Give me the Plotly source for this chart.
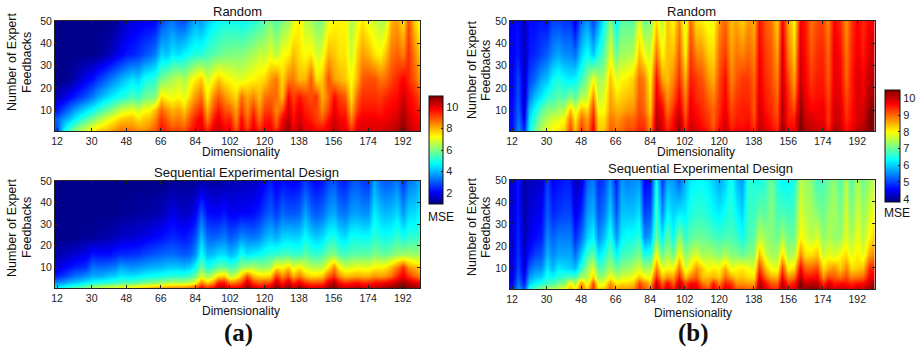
import plotly.graph_objects as go

dims = list(range(12, 202, 3))
feedbacks = [1, 3, 6, 10, 16, 24, 35, 50]
x_ticks = [12, 30, 48, 66, 84, 102, 120, 138, 156, 174, 192]
y_ticks = [10, 20, 30, 40, 50]

a_rand_50 = [1.1,1.1,1.1,1.1,1.1,1.1,1.1,1.1, 1.1,1.1,1.2,1.4,1.7,1.8,1.9,2.0, 2.0,2.1,2.8,3.2,3.3,3.0,2.9,3.5, 3.9,3.7,4.2,4.6,4.8,4.9,4.9,4.9, 4.8,4.9,5.1,5.3,5.6,6.0,5.5,6.0, 6.3,7.0,7.4,6.6,6.4,6.0,6.1,7.0, 7.3,7.3,7.3,6.4,7.0,7.5,7.0,6.8, 6.5,6.6,8.0,8.2,7.5,9.0,7.8,7.0]
a_rand_35 = [1.1,1.1,1.1,1.1,1.1,1.1,1.1,1.2, 1.3,1.5,1.8,2.0,2.3,2.4,2.6,2.9, 3.1,3.4,4.3,4.1,4.6,4.4,4.7,4.9, 5.1,5.1,5.4,5.6,5.7,5.9,6.0,6.0, 6.0,6.2,6.4,6.7,6.6,7.0,6.6,7.2, 7.3,7.9,7.5,7.2,7.4,6.8,7.0,8.0, 7.8,7.5,7.5,6.7,7.7,8.2,8.0,7.5, 7.3,7.8,8.6,8.8,8.5,9.3,8.5,7.7]
a_rand_24 = [1.1,1.1,1.2,1.4,1.7,2.0,2.2,2.6, 2.9,3.3,3.6,3.9,4.2,4.5,4.3,4.9, 5.0,5.2,5.9,6.2,6.4,6.7,6.4,7.0, 7.4,7.8,6.8,7.3,7.8,7.4,7.2,7.0, 6.9,7.2,7.3,7.5,7.6,8.2,8.6,7.6, 8.5,8.6,7.9,8.0,8.9,7.5,7.8,9.0, 8.2,8.0,7.8,7.2,8.0,8.9,9.0,9.0, 8.6,8.7,9.1,9.4,9.8,9.4,8.9,8.2]
a_rand_16 = [1.5,1.8,2.1,2.4,2.7,3.0,3.4,3.8, 4.2,4.5,4.8,5.0,5.2,5.5,5.3,5.8, 5.9,6.0,7.6,7.2,7.1,7.3,7.0,7.7, 8.3,8.7,7.3,8.4,8.9,8.4,8.0,7.6, 8.7,8.1,8.5,7.9,8.6,8.8,8.7,7.9, 9.8,9.1,9.6,9.2,9.0,9.3,8.0,8.7, 9.7,9.2,8.9,7.5,8.8,9.3,9.3,9.3, 9.2,9.4,9.6,9.7,10.2,9.8,9.5,9.0]
a_rand_10 = [2.3,2.8,3.3,3.7,4.1,4.5,4.8,5.2, 5.6,5.9,6.3,6.7,6.9,7.1,6.8,7.2, 7.3,7.9,8.8,8.3,8.0,8.2,7.8,8.5, 9.0,9.4,8.0,9.0,9.6,9.0,8.8,8.2, 9.2,8.4,9.3,8.3,9.1,9.2,8.4,9.0, 10.2,9.4,10.0,9.5,9.3,9.1,8.4,9.1, 10.0,9.5,9.4,8.0,9.2,9.6,9.6,9.6, 9.5,9.7,9.8,10.0,10.5,10.0,9.7,9.4]
a_rand_6 = [3.1,3.7,4.1,4.6,5.1,5.5,5.9,6.3, 6.7,7.1,7.4,7.7,7.9,7.9,7.5,7.8, 7.9,8.4,9.3,8.8,8.4,8.6,8.3,9.0, 9.5,9.9,8.5,9.5,10.0,9.4,9.4,8.4, 9.7,8.7,9.7,8.7,9.5,9.6,8.7,9.8, 10.4,9.6,10.2,9.7,9.5,9.2,8.9,9.6, 10.2,9.8,9.7,8.5,9.7,9.9,9.9,9.9, 9.8,9.9,10.0,10.2,10.7,10.2,9.9,9.7]
a_rand_3 = [3.0,4.2,5.0,5.5,6.0,6.4,6.8,7.2, 7.4,7.7,8.0,8.3,8.3,8.3,8.0,8.1, 8.3,8.7,9.5,9.1,8.8,8.9,8.7,9.3, 9.7,10.0,9.0,9.8,10.2,9.7,9.7,8.7, 9.9,9.0,9.9,9.1,9.7,9.8,9.0,10.1, 10.6,9.8,10.4,9.9,9.8,9.5,9.4,9.9, 10.3,10.0,9.9,8.9,9.9,10.0,10.0,10.0, 10.0,10.1,10.2,10.4,10.8,10.3,10.0,9.9]
a_rand_1 = [2.8,4.5,5.4,6.0,6.4,6.8,7.2,7.6, 7.8,8.0,8.3,8.6,8.6,8.6,8.4,8.4, 8.6,8.9,9.6,9.3,9.1,9.2,9.0,9.5, 9.8,10.1,9.3,10.0,10.3,9.9,9.8,9.0, 10.0,9.3,10.1,9.4,9.8,9.9,9.3,10.3, 10.7,10.0,10.5,10.1,10.0,9.7,9.7,10.0, 10.4,10.1,10.0,9.2,10.0,10.1,10.1,10.1, 10.1,10.2,10.3,10.5,10.9,10.4,10.1,10.0]

a_seq_50 = [1.1,1.1,1.1,1.1,1.1,1.1,1.1,1.1, 1.1,1.1,1.1,1.1,1.1,1.1,1.1,1.1, 1.1,1.1,1.1,1.1,1.2,1.2,1.2,1.2, 1.2,1.4,1.3,1.3,1.3,1.4,1.4,1.5, 1.5,1.5,1.6,1.7,2.0,2.4,1.9,2.2, 2.1,2.0,2.2,2.7,2.3,2.1,2.3,2.8, 3.0,2.5,2.4,2.9,3.0,2.7,2.6,3.8, 3.2,3.0,3.1,3.4,2.6,3.3,3.5,3.9]
a_seq_35 = [1.1,1.1,1.1,1.1,1.1,1.1,1.1,1.1, 1.1,1.1,1.1,1.2,1.2,1.2,1.3,1.3, 1.3,1.4,1.5,1.7,1.9,1.7,1.6,1.7, 2.0,3.0,2.2,2.1,2.1,2.3,2.0,2.0, 2.1,2.1,2.2,2.4,2.8,3.1,2.7,3.2, 3.0,3.0,3.1,3.8,3.2,3.0,3.2,3.7, 3.9,3.4,3.3,3.7,3.8,3.6,3.6,4.6, 4.2,4.0,4.1,4.4,3.7,4.3,4.4,4.7]
a_seq_24 = [1.1,1.1,1.1,1.1,1.2,1.2,1.2,1.3, 1.4,1.4,1.5,1.6,1.7,1.7,1.8,1.9, 2.0,2.1,2.2,2.4,2.5,2.4,2.3,2.5, 2.9,4.1,3.2,3.1,3.2,3.4,3.0,3.2, 3.6,3.4,3.3,3.5,3.9,4.2,3.9,4.3, 4.4,4.3,4.3,4.8,4.4,4.2,4.4,4.9, 5.0,4.6,4.4,4.9,4.9,4.8,4.8,5.2, 5.0,4.9,5.0,5.3,4.9,5.2,5.2,5.4]
a_seq_16 = [1.4,1.5,1.6,1.7,1.8,1.9,2.3,2.2, 2.2,2.2,2.4,2.5,2.5,2.6,2.6,2.8, 2.9,3.0,3.1,3.2,3.2,3.1,3.0,3.1, 3.6,4.9,4.0,4.1,4.4,4.4,4.0,4.3, 5.0,4.5,4.7,4.8,5.0,5.2,5.2,5.4, 5.4,5.3,5.2,5.7,5.3,5.2,5.4,5.9, 6.0,5.5,5.4,5.6,5.6,5.7,5.6,6.0, 5.8,5.7,5.9,6.2,6.2,6.3,6.2,6.3]
a_seq_10 = [1.8,2.0,2.2,2.4,2.5,2.6,3.3,3.2, 3.2,3.3,3.4,3.8,3.7,3.6,3.7,3.8, 3.9,4.0,4.0,4.2,4.2,4.2,4.1,4.3, 4.8,5.9,5.0,5.3,5.7,5.7,5.4,5.6, 6.2,6.3,6.5,6.2,6.2,6.4,7.4,7.2, 7.7,6.9,7.4,6.8,6.6,6.5,6.6,7.4, 8.4,7.2,6.8,6.9,7.1,7.0,7.0,7.3, 7.3,7.4,7.9,8.5,9.3,8.3,8.0,7.7]
a_seq_6 = [2.4,2.7,3.0,3.3,3.4,3.6,3.9,3.9, 4.0,4.2,4.3,4.6,4.5,4.5,4.6,4.8, 4.8,4.9,5.0,5.1,5.2,5.2,5.2,5.4, 5.8,7.0,6.2,6.8,7.6,7.8,6.6,7.0, 7.8,9.0,7.9,7.6,7.6,7.7,9.2,8.4, 9.0,8.0,8.6,7.9,7.6,7.6,7.8,8.8, 9.3,8.4,7.9,8.0,8.1,8.0,8.0,8.3, 8.2,8.3,8.7,9.4,10.0,9.3,8.8,8.4]
a_seq_3 = [3.5,3.7,4.0,4.1,4.3,4.6,4.8,4.9, 5.0,5.1,5.2,5.4,5.5,5.5,5.6,5.8, 5.9,6.0,6.2,6.3,6.4,6.4,6.4,6.6, 7.0,8.4,7.6,8.2,9.4,9.5,8.4,8.6, 9.0,10.2,9.1,8.8,8.9,9.0,10.3,9.4, 10.2,9.3,9.9,9.2,8.9,8.9,9.0,10.0, 10.5,9.6,9.2,9.4,9.6,9.3,9.3,9.5, 9.6,9.7,10.0,10.4,10.7,10.3,10.0,9.7]
a_seq_1 = [4.6,4.8,5.2,5.4,5.6,5.9,6.3,6.4, 6.6,6.8,6.9,7.0,7.1,7.2,7.4,7.6, 7.7,7.9,8.0,8.1,8.2,8.2,8.3,8.5, 8.8,9.7,9.2,9.6,10.4,10.4,9.7,9.8, 10.0,10.8,10.1,9.9,10.0,10.1,10.8,10.4, 10.8,10.3,10.7,10.2,10.0,10.0,10.1,10.7, 10.9,10.4,10.2,10.3,10.5,10.2,10.2,10.4, 10.5,10.6,10.8,10.9,11.0,10.9,10.7,10.5]

b_rand_50 = [4.5,4.6,4.1,4.6,4.6,4.7,4.6,5.0, 5.0,4.9,4.9,4.4,5.3,5.6,5.0,5.6, 6.4,7.2,6.3,6.9,6.9,6.9,7.8,7.0, 7.2,8.2,7.5,8.4,8.0,8.8,7.6,9.0, 8.2,8.1,7.9,7.9,8.7,9.0,8.4,8.6, 8.3,8.7,8.5,9.6,9.1,8.9,8.3,9.7, 8.6,8.0,9.7,9.5,8.9,9.2,9.2,8.8, 9.7,9.4,8.7,9.3,9.7,9.4,9.7,9.8]
b_rand_35 = [4.5,4.7,4.1,4.7,4.8,5.0,5.2,5.5, 5.7,5.5,5.5,5.3,6.0,6.4,5.9,6.5, 6.9,7.8,7.0,7.4,7.4,7.5,8.4,7.9, 7.7,8.9,8.0,8.4,8.4,9.1,8.0,9.3, 8.8,8.7,8.3,8.2,9.0,9.3,8.6,8.9, 8.8,9.0,8.8,9.7,9.3,9.1,8.6,9.9, 8.9,8.3,9.9,9.6,9.1,9.4,9.4,9.0, 9.8,9.6,8.9,9.4,9.8,9.5,9.9,10.0]
b_rand_24 = [4.5,5.0,4.2,5.0,5.3,5.7,5.9,6.3, 6.5,6.3,6.2,6.3,6.7,7.2,7.9,7.4, 7.5,8.4,7.8,8.0,8.1,8.3,9.0,8.8, 8.0,9.6,8.6,8.4,8.8,9.4,8.5,9.5, 9.3,9.1,8.7,8.5,9.2,9.6,8.8,9.1, 9.3,9.3,9.0,9.8,9.4,9.2,8.8,10.0, 9.2,8.6,10.0,9.7,9.3,9.5,9.5,9.1, 9.8,9.7,9.0,9.5,9.9,9.7,10.1,10.1]
b_rand_16 = [4.5,5.1,4.2,5.4,5.9,6.2,6.6,6.7, 6.9,6.8,7.2,6.9,7.5,7.6,8.8,7.6, 7.8,8.6,8.2,8.3,8.4,8.5,9.1,8.9, 8.2,9.8,9.3,8.7,9.1,9.7,8.8,9.7, 9.4,9.3,9.0,8.8,9.3,9.7,9.0,9.3, 9.4,9.4,9.1,9.9,9.5,9.3,9.0,10.1, 9.4,8.9,10.2,9.8,9.5,9.6,9.6,9.2, 9.9,9.8,9.2,9.5,9.9,9.8,10.2,10.3]
b_rand_10 = [4.6,5.2,4.3,5.9,6.4,6.9,7.2,7.2, 7.4,7.5,8.4,7.7,8.5,8.2,9.3,7.9, 8.0,8.7,8.5,8.5,8.7,8.7,9.2,9.0, 8.3,10.0,9.7,8.9,9.4,10.0,9.0,9.8, 9.6,9.4,9.2,9.0,9.4,9.8,9.2,9.4, 9.5,9.5,9.1,10.0,9.6,9.4,9.1,10.2, 9.5,9.2,10.4,9.9,9.7,9.7,9.8,9.3, 10.0,9.9,9.3,9.6,9.9,9.9,10.4,10.5]
b_rand_6 = [4.6,5.3,4.5,6.1,6.7,7.2,7.5,7.7, 7.8,8.0,8.9,8.1,9.0,8.6,9.5,8.2, 8.2,8.9,8.7,8.8,9.0,9.0,9.3,9.2, 8.6,10.1,9.8,9.2,9.6,10.2,9.2,9.9, 9.7,9.5,9.3,9.0,9.5,9.9,9.3,9.5, 9.5,9.6,9.2,10.0,9.7,9.5,9.2,10.2, 9.5,9.5,10.5,10.0,9.9,9.8,9.8,9.3, 10.0,9.9,9.4,9.6,9.9,10.0,10.5,10.5]
b_rand_3 = [4.6,5.4,4.7,6.2,6.9,7.4,7.7,7.9, 8.0,8.2,9.1,8.3,9.2,8.7,9.7,8.3, 8.3,9.0,8.8,8.9,9.1,9.1,9.4,9.3, 8.7,10.2,9.9,9.3,9.7,10.3,9.3,10.0, 9.8,9.6,9.4,9.1,9.6,10.0,9.4,9.6, 9.6,9.7,9.3,10.1,9.8,9.6,9.3,10.3, 9.6,9.6,10.5,10.1,10.0,9.9,9.9,9.4, 10.1,10.0,9.5,9.7,10.0,10.1,10.5,10.5]
b_rand_1 = [4.6,5.5,4.8,6.3,7.0,7.5,7.8,8.0, 8.1,8.3,9.2,8.4,9.3,8.8,9.8,8.3, 8.4,9.1,8.9,9.0,9.2,9.2,9.5,9.4, 8.8,10.3,10.0,9.4,9.8,10.4,9.4,10.1, 9.9,9.7,9.5,9.2,9.7,10.1,9.5,9.7, 9.7,9.8,9.4,10.2,9.9,9.7,9.4,10.4, 9.7,9.7,10.5,10.2,10.1,10.0,10.0,9.5, 10.2,10.1,9.6,9.8,10.1,10.2,10.5,10.5]

b_seq_50 = [4.3,4.7,4.0,4.2,4.2,4.2,5.0,4.5, 4.6,4.7,4.7,4.1,4.3,5.2,5.4,4.8, 5.0,5.6,4.7,5.6,5.4,5.5,5.6,4.5, 4.6,6.4,4.9,5.7,5.6,5.2,5.8,6.2, 6.3,6.3,6.2,6.0,5.7,6.0,6.5,5.9, 5.6,6.6,6.5,6.4,6.6,7.1,6.5,6.3, 6.3,6.5,7.5,7.4,7.2,6.7,6.8,7.0, 7.3,6.8,7.5,6.8,7.5,7.0,7.4,7.6]
b_seq_35 = [4.3,4.7,4.0,4.3,4.4,4.5,5.2,4.8, 4.9,5.0,5.0,4.4,4.8,5.6,5.8,5.1, 5.4,6.0,5.1,5.9,5.9,5.9,6.1,5.0, 5.1,6.7,5.5,6.3,6.0,6.2,6.2,6.5, 6.6,6.6,6.5,6.3,6.2,6.4,6.6,6.3, 6.0,6.7,6.7,7.0,6.9,7.2,6.8,6.8, 6.7,6.8,7.8,7.5,7.4,7.2,7.0,7.3, 7.4,7.1,7.7,7.1,7.7,7.3,7.7,8.0]
b_seq_24 = [4.3,4.8,4.1,4.4,4.6,4.7,5.5,5.2, 5.4,5.4,5.4,4.8,5.3,6.0,6.3,5.5, 5.9,6.5,5.6,6.2,6.4,6.4,6.6,5.5, 5.7,7.0,6.2,7.0,6.3,7.3,6.6,6.9, 7.0,7.0,6.9,6.8,6.7,6.8,6.8,6.7, 6.4,6.8,6.9,7.6,7.3,7.2,7.0,7.4, 7.0,7.1,8.0,7.8,7.5,7.8,7.2,7.5, 7.3,7.3,7.8,7.4,7.9,7.5,8.0,8.4]
b_seq_16 = [4.3,4.9,4.2,4.7,5.0,5.1,5.8,5.5, 5.7,5.7,5.7,5.3,6.0,6.7,7.0,6.2, 6.5,7.0,6.3,6.7,6.8,6.9,7.2,6.5, 6.6,7.9,7.0,7.5,7.0,8.1,7.2,7.5, 7.8,7.4,7.5,7.4,7.2,7.5,7.2,7.2, 7.0,7.2,7.3,8.5,7.7,7.4,7.4,8.2, 7.4,7.5,8.8,8.2,8.2,8.4,7.6,7.9, 7.7,8.0,8.2,7.8,8.1,7.8,8.6,8.9]
b_seq_10 = [4.3,5.0,4.3,5.2,5.5,5.5,6.2,5.8, 6.2,6.1,6.0,5.8,6.6,7.3,7.8,6.8, 7.0,7.4,7.0,7.2,7.3,7.5,7.7,7.4, 7.4,8.8,7.8,8.0,7.9,8.9,7.7,8.1, 8.7,8.3,7.9,8.1,8.0,8.5,7.8,8.0, 8.1,7.9,7.8,9.3,8.4,7.9,7.8,9.2, 8.0,8.2,9.7,9.0,9.0,9.2,8.2,8.5, 8.7,8.3,8.8,8.2,8.3,8.4,9.4,9.5]
b_seq_6 = [4.4,5.2,4.5,5.6,5.9,6.0,6.5,6.3, 6.6,6.7,6.8,6.8,7.4,7.5,8.3,7.3, 7.4,8.0,7.5,7.7,7.8,7.9,8.4,8.0, 7.9,9.4,8.4,8.7,8.6,9.5,8.4,8.8, 9.1,8.4,8.4,8.5,8.3,9.0,8.6,8.3, 8.4,8.2,8.2,9.8,9.0,8.5,8.5,9.7, 8.7,8.9,10.1,9.5,9.6,9.7,8.7,9.2, 9.1,8.9,9.2,8.8,8.9,9.0,9.7,9.9]
b_seq_3 = [4.5,5.4,4.7,6.0,6.3,6.5,6.7,6.8, 7.0,7.2,8.0,7.4,8.7,7.7,9.2,7.8, 7.9,8.7,8.1,8.2,8.2,8.3,9.2,8.8, 8.4,10.0,9.0,9.7,9.0,10.1,9.2,9.6, 9.6,8.9,8.7,9.5,8.8,9.5,9.3,8.7, 8.7,8.6,8.6,10.2,9.6,9.1,9.0,10.1, 9.3,9.5,10.5,10.0,10.1,10.1,9.3,9.9, 9.5,9.6,9.6,9.4,9.6,9.6,10.0,10.4]
b_seq_1 = [4.7,5.6,5.0,6.4,6.9,7.1,7.3,7.4, 7.6,7.8,8.4,7.9,9.0,8.2,9.4,8.2, 8.3,9.0,8.5,8.6,8.6,8.7,9.4,9.1, 8.8,10.2,9.4,10.0,9.4,10.3,9.5,9.9, 9.9,9.3,9.1,9.8,9.2,9.8,9.6,9.1, 9.1,9.0,9.0,10.4,9.9,9.4,9.4,10.3, 9.7,9.8,10.5,10.3,10.4,10.4,9.7,10.2, 9.9,10.0,10.0,9.8,10.0,10.0,10.3,10.5]

W, H = 917, 349
FONT = "Liberation Sans, Arial, sans-serif"
JET = [[0, "#00007f"], [0.11, "#0000ff"], [0.375, "#00ffff"], [0.625, "#ffff00"], [0.875, "#ff0000"], [1, "#7f0000"]]

fig = go.Figure()


def px_x(p):
    return p / W


def px_y(p):
    return 1 - p / H


panels = [
    ("", [a_rand_1, a_rand_3, a_rand_6, a_rand_10, a_rand_16, a_rand_24, a_rand_35, a_rand_50], (55, 420), (21, 131), 0.7, "coloraxis"),
    ("2", [a_seq_1, a_seq_3, a_seq_6, a_seq_10, a_seq_16, a_seq_24, a_seq_35, a_seq_50], (55, 420), (181, 288), 0.4, "coloraxis"),
    ("3", [b_rand_1, b_rand_3, b_rand_6, b_rand_10, b_rand_16, b_rand_24, b_rand_35, b_rand_50], (510, 874.5), (21, 131), 0.7, "coloraxis2"),
    ("4", [b_seq_1, b_seq_3, b_seq_6, b_seq_10, b_seq_16, b_seq_24, b_seq_35, b_seq_50], (510, 874.5), (180, 289), 0.4, "coloraxis2"),
]

axes = {}
for suffix, z, xp, yp, y0, cax in panels:
    fig.add_trace(go.Heatmap(x=dims, y=feedbacks, z=z, zsmooth="best", coloraxis=cax,
                             xaxis="x" + suffix, yaxis="y" + suffix))
    common = dict(showgrid=False, zeroline=False, showline=True, mirror="ticks", linecolor="#222", linewidth=1,
                  ticks="inside", ticklen=3, tickcolor="#222", tickfont=dict(family=FONT, size=10.5, color="#222"))
    axes["xaxis" + suffix] = dict(domain=[px_x(xp[0]), px_x(xp[1])], range=[10.9, 201], tickmode="array",
                                  tickvals=x_ticks, anchor="y" + suffix, **common)
    axes["yaxis" + suffix] = dict(domain=[px_y(yp[1]), px_y(yp[0])], range=[y0, 50], tickmode="array",
                                  tickvals=y_ticks, anchor="x" + suffix, **common)

texts = [
    ("Random", 237, 11, 13, 0, False),
    ("Sequential Experimental Design", 246, 172, 13, 0, False),
    ("Random", 691, 11, 13, 0, False),
    ("Sequential Experimental Design", 700, 169, 13, 0, False),
    ("Dimensionality", 241, 152, 12, 0, False),
    ("Dimensionality", 241, 311, 12, 0, False),
    ("Dimensionality", 696, 152, 12, 0, False),
    ("Dimensionality", 693, 313, 12, 0, False),
    ("Number of Expert", 12, 62, 12.5, -90, False),
    ("Feedbacks", 27, 63, 12.5, -90, False),
    ("Number of Expert", 12, 228, 12.5, -90, False),
    ("Feedbacks", 27, 228, 12.5, -90, False),
    ("Number of Expert", 472, 70, 12.5, -90, False),
    ("Feedbacks", 486, 70, 12.5, -90, False),
    ("Number of Expert", 472, 227, 12.5, -90, False),
    ("Feedbacks", 486, 227, 12.5, -90, False),
    ("MSE", 441, 217, 12, 0, False),
    ("MSE", 897, 213, 12, 0, False),
    ("<b>(a)</b>", 239, 333, 25, 0, True),
    ("<b>(b)</b>", 693, 333, 25, 0, True),
]
annotations = [dict(text=t, x=px_x(x), y=px_y(y), xref="paper", yref="paper", showarrow=False, textangle=a,
                    xanchor="center", yanchor="middle",
                    font=dict(family="Liberation Serif, serif" if serif else FONT, size=s, color="#111"))
               for t, x, y, s, a, serif in texts]


def cbar(x0, x1, y0, y1, ticks):
    return dict(x=px_x(x0), xanchor="left", xref="paper", y=px_y(y1), yanchor="bottom", yref="paper",
                thickness=x1 - x0, thicknessmode="pixels", len=(y1 - y0) / H, lenmode="fraction",
                tickmode="array", tickvals=ticks, ticks="inside", ticklen=2, tickcolor="#222",
                tickfont=dict(family=FONT, size=11, color="#222"), outlinecolor="#111", outlinewidth=1, xpad=0, ypad=0)


fig.update_layout(
    width=W, height=H, margin=dict(l=0, r=0, t=0, b=0, autoexpand=False), paper_bgcolor="white", plot_bgcolor="white",
    annotations=annotations,
    coloraxis=dict(colorscale=JET, cmin=1, cmax=11, colorbar=cbar(428.5, 442.5, 96, 204, [2, 4, 6, 8, 10])),
    coloraxis2=dict(colorscale=JET, cmin=3.8, cmax=10.5, colorbar=cbar(885, 900, 90, 202, [4, 5, 6, 7, 8, 9, 10])),
    **axes,
)
fig.write_html("out.html", config=dict(displayModeBar=False),
               post_script="document.body.style.margin='0';document.documentElement.style.overflow='hidden';")
